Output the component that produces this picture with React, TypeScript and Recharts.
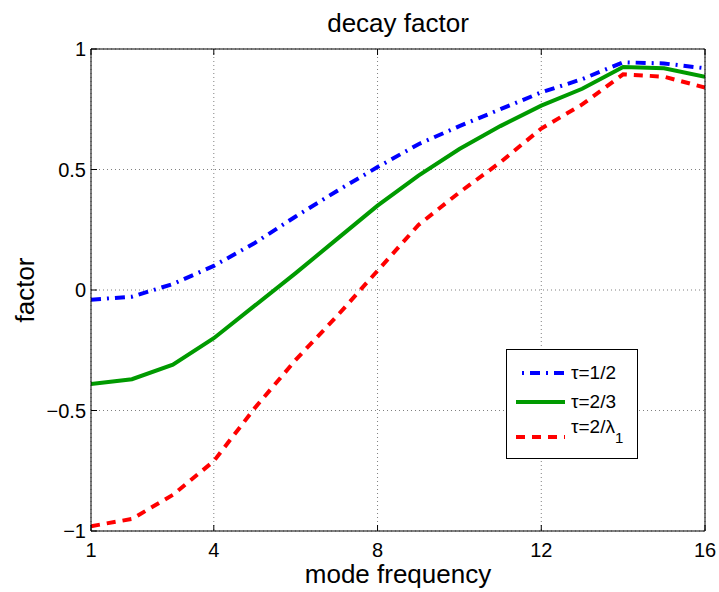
import React from 'react';
import { LineChart, Line, XAxis, YAxis, CartesianGrid, Legend } from 'recharts';

const modeFrequency = [1, 2, 3, 4, 5, 6, 7, 8, 9, 10, 11, 12, 13, 14, 15, 16];
const tauHalf = [-0.04, -0.028, 0.025, 0.1, 0.195, 0.305, 0.41, 0.51, 0.605, 0.68, 0.75, 0.82, 0.875, 0.945, 0.94, 0.92];
const tauTwoThirds = [-0.39, -0.37, -0.31, -0.2, -0.065, 0.07, 0.21, 0.35, 0.475, 0.585, 0.68, 0.765, 0.835, 0.925, 0.92, 0.885];
const tauLambda = [-0.98, -0.95, -0.85, -0.71, -0.49, -0.29, -0.11, 0.08, 0.27, 0.405, 0.53, 0.67, 0.77, 0.895, 0.885, 0.84];

const xTicks = [1, 4, 8, 12, 16];
const yTicks = [-1, -0.5, 0, 0.5, 1];
const titleText = 'decay factor';
const xLabelText = 'mode frequency';
const yLabelText = 'factor';
const seriesNames = ['τ=1/2', 'τ=2/3', 'τ=2/λ'];

const data = modeFrequency.map((f, i) => ({
  f,
  half: tauHalf[i],
  twoThirds: tauTwoThirds[i],
  lambda: tauLambda[i],
}));

const FONT = '"Liberation Sans", Arial, Helvetica, sans-serif';
const BLUE = '#0000ff';
const GREEN = '#009a00';
const RED = '#ff0000';
const BLUE_DASH = '10 6 2 6';
const RED_DASH = '9 7';
const TICK_LEN = 6;

const fmt = (v: number) => (v < 0 ? '\u2212' + String(-v) : String(v));

const BottomTick = (p: any) => (
  <g>
    <line x1={p.x} y1={p.y} x2={p.x} y2={p.y - TICK_LEN} stroke="#000" />
    <text x={p.x} y={p.y + 26} textAnchor="middle" fontSize={20} fontFamily={FONT} fill="#000">
      {fmt(p.payload.value)}
    </text>
  </g>
);
const TopTick = (p: any) => (
  <line x1={p.x} y1={p.y} x2={p.x} y2={p.y + TICK_LEN} stroke="#000" />
);
const LeftTick = (p: any) => (
  <g>
    <line x1={p.x} y1={p.y} x2={p.x + TICK_LEN} y2={p.y} stroke="#000" />
    <text x={p.x - 5} y={p.y + 7} textAnchor="end" fontSize={20} fontFamily={FONT} fill="#000">
      {fmt(p.payload.value)}
    </text>
  </g>
);
const RightTick = (p: any) => (
  <line x1={p.x} y1={p.y} x2={p.x - TICK_LEN} y2={p.y} stroke="#000" />
);

const TitleLabel = (p: any) => {
  const vb = p.viewBox || {};
  return (
    <text x={vb.x + vb.width / 2} y={32} textAnchor="middle" fontSize={26} fontFamily={FONT} fill="#000">
      {titleText}
    </text>
  );
};
const XLabel = (p: any) => {
  const vb = p.viewBox || {};
  return (
    <text x={vb.x + vb.width / 2} y={vb.y + 52} textAnchor="middle" fontSize={26} fontFamily={FONT} fill="#000">
      {xLabelText}
    </text>
  );
};
const YLabel = (p: any) => {
  const vb = p.viewBox || {};
  const cx = 34;
  const cy = vb.y + vb.height / 2;
  return (
    <text x={cx} y={cy} textAnchor="middle" fontSize={26} fontFamily={FONT} fill="#000" transform={`rotate(-90, ${cx}, ${cy})`}>
      {yLabelText}
    </text>
  );
};

const renderLegend = () => (
  <svg width={132} height={110} style={{ display: 'block' }}>
    <rect x={0.5} y={0.5} width={131} height={109} fill="#fff" stroke="#000" />
    <line x1={10} y1={24} x2={59} y2={24} stroke={BLUE} strokeWidth={4} strokeDasharray={BLUE_DASH} strokeDashoffset={-14} />
    <text x={65} y={30} fontSize={19} fontFamily={FONT} fill="#000">{seriesNames[0]}</text>
    <line x1={10} y1={53} x2={59} y2={53} stroke={GREEN} strokeWidth={4} />
    <text x={65} y={59} fontSize={19} fontFamily={FONT} fill="#000">{seriesNames[1]}</text>
    <line x1={10} y1={88} x2={59} y2={88} stroke={RED} strokeWidth={4} strokeDasharray={RED_DASH} />
    <text x={65} y={84} fontSize={19} fontFamily={FONT} fill="#000">
      {seriesNames[2]}
      <tspan fontSize={15} dy={10}>1</tspan>
    </text>
  </svg>
);

export default function App() {
  return (
    <div style={{ position: 'absolute', left: 0, top: 0, width: 719, height: 592, background: '#fff' }}>
      <LineChart width={719} height={592} data={data} margin={{ top: 0, right: 0, bottom: 0, left: 0 }}>
        <CartesianGrid stroke="#808080" strokeDasharray="1 3" />
        <XAxis
          dataKey="f"
          type="number"
          domain={[1, 16]}
          ticks={xTicks}
          interval={0}
          height={61}
          tickSize={0}
          tickMargin={0}
          tickLine={false}
          tick={<BottomTick />}
          axisLine={{ stroke: '#000' }}
          allowDataOverflow
          label={XLabel}
        />
        <XAxis
          xAxisId="top"
          orientation="top"
          dataKey="f"
          type="number"
          domain={[1, 16]}
          ticks={xTicks}
          interval={0}
          height={49}
          tickSize={0}
          tickMargin={0}
          tickLine={false}
          tick={<TopTick />}
          axisLine={{ stroke: '#000' }}
          label={TitleLabel}
        />
        <YAxis
          type="number"
          domain={[-1, 1]}
          ticks={yTicks}
          interval={0}
          width={91}
          tickSize={0}
          tickMargin={0}
          tickLine={false}
          tick={<LeftTick />}
          axisLine={{ stroke: '#000' }}
          allowDataOverflow
          label={YLabel}
        />
        <YAxis
          yAxisId="right"
          orientation="right"
          type="number"
          domain={[-1, 1]}
          ticks={yTicks}
          interval={0}
          width={14}
          tickSize={0}
          tickMargin={0}
          tickLine={false}
          tick={<RightTick />}
          axisLine={{ stroke: '#000' }}
        />
        <Line type="linear" dataKey="half" name={seriesNames[0]} stroke={BLUE} strokeWidth={4} strokeDasharray={BLUE_DASH} dot={false} activeDot={false} isAnimationActive={false} />
        <Line type="linear" dataKey="twoThirds" name={seriesNames[1]} stroke={GREEN} strokeWidth={4} dot={false} activeDot={false} isAnimationActive={false} />
        <Line type="linear" dataKey="lambda" name={seriesNames[2]} stroke={RED} strokeWidth={4} strokeDasharray={RED_DASH} dot={false} activeDot={false} isAnimationActive={false} />
        <Legend
          layout="horizontal"
          verticalAlign="middle"
          align="center"
          content={renderLegend}
          wrapperStyle={{ position: 'absolute', left: 506, top: 349, width: 132, height: 110 }}
        />
      </LineChart>
    </div>
  );
}
